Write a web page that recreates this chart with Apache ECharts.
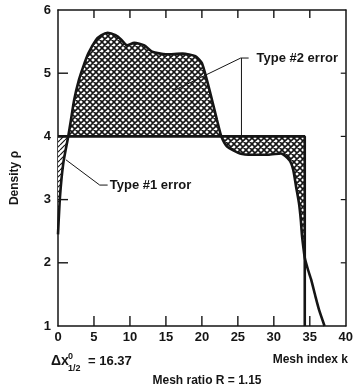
<!DOCTYPE html>
<html><head><meta charset="utf-8">
<script src="https://cdn.jsdelivr.net/npm/echarts@6/dist/echarts.min.js"></script>
<style>html,body{margin:0;padding:0;background:#fff}#c{width:356px;height:388px}</style>
</head><body><div id="c"></div>
<script>
// Numerical density profile (mesh index k, density rho)
const meshK = [0, 0.28, 0.73, 1.42, 1.8, 2.25, 2.9, 3.5, 4.2, 5.3, 6.0, 6.9, 8.0, 8.8, 9.6, 10.6, 12.0, 13.1, 15.0, 17.3, 19.1, 20.0, 20.7, 21.4, 22.1, 22.7, 23.5, 25.3, 27.0, 29.2, 31.0, 32.2, 32.7, 33.1, 33.5, 33.75, 33.9, 34.1, 34.3, 34.75, 35.2, 35.8, 36.3, 37.05];
const densityRho = [2.45, 3.05, 3.57, 4.0, 4.26, 4.58, 4.89, 5.10, 5.31, 5.53, 5.60, 5.64, 5.60, 5.53, 5.44, 5.48, 5.44, 5.34, 5.30, 5.31, 5.27, 5.16, 4.89, 4.58, 4.26, 4.0, 3.84, 3.73, 3.71, 3.71, 3.73, 3.62, 3.47, 3.20, 2.94, 2.68, 2.45, 2.25, 2.08, 1.89, 1.73, 1.46, 1.25, 1.0];
// Exact step profile
const exactK = [0, 34.3, 34.3];
const exactRho = [4, 4, 1];
const exactLevel = 4;
const type1StartK = 0, type1EndK = 1.42;
const type2StartK = 1.42, type2EndK = 34.3;
// Axis ticks
const xTicks = [0, 5, 10, 15, 20, 25, 30, 35, 40];
const yTicks = [1, 2, 3, 4, 5, 6];
// Annotation anchors (data coordinates)
const type1Leader = [[1.1, 3.63], [5.8, 3.23], [6.9, 3.23]];
const type1LabelAt = [7.2, 3.23];
const type2LeaderA = [[16, 4.72], [25.4, 5.24], [26.5, 5.24]];
const type2LeaderB = [[25.5, 5.24], [25.5, 3.94]];
const type2LabelAt = [27.6, 5.24];

const INK = '#151515';
const FONT = '"Liberation Sans", Arial, sans-serif';
const X_MIN = xTicks[0], X_MAX = xTicks[xTicks.length - 1];
const Y_MIN = yTicks[0], Y_MAX = yTicks[yTicks.length - 1];

function makePattern(size, width, draw) {
  const c = document.createElement('canvas');
  c.width = c.height = size;
  const g = c.getContext('2d');
  g.fillStyle = '#fff'; g.fillRect(0, 0, size, size);
  g.strokeStyle = INK; g.lineWidth = width;
  g.beginPath(); draw(g, size); g.stroke();
  return { image: c, repeat: 'repeat' };
}
const crossPat = makePattern(6, 1.6, (g, s) => {
  for (let k = -1; k <= 1; k++) {
    g.moveTo(k * s, 0); g.lineTo(k * s + s, s);
    g.moveTo(k * s + s, 0); g.lineTo(k * s, s);
  }
});
const hatchPat = makePattern(5, 1.2, (g, s) => {
  for (let k = -1; k <= 1; k++) { g.moveTo(k * s, s); g.lineTo(k * s + s, 0); }
});

const chart = echarts.init(document.getElementById('c'), null, { renderer: 'canvas' });

const axisLine = { show: true, onZero: false, lineStyle: { color: INK, width: 1.5 } };
const lbl = { color: INK, fontFamily: FONT, fontWeight: 'bold', fontSize: 13 };
const noTick = { show: false };

chart.setOption({
  animation: false,
  backgroundColor: '#fff',
  grid: { left: 58, right: 8, top: 10, bottom: 62, containLabel: false },
  xAxis: [
    { type: 'value', position: 'bottom', min: X_MIN, max: X_MAX, interval: 5,
      axisLine, splitLine: { show: false }, axisTick: noTick,
      axisLabel: Object.assign({ show: true, margin: 5 }, lbl) },
    { type: 'value', position: 'top', min: X_MIN, max: X_MAX, interval: 5,
      axisLine, splitLine: { show: false }, axisTick: noTick, axisLabel: { show: false } }
  ],
  yAxis: [
    { type: 'value', position: 'left', min: Y_MIN, max: Y_MAX, interval: 1,
      axisLine, splitLine: { show: false }, axisTick: noTick,
      axisLabel: Object.assign({ show: true, margin: 7 }, lbl) },
    { type: 'value', position: 'right', min: Y_MIN, max: Y_MAX, interval: 1,
      axisLine, splitLine: { show: false }, axisTick: noTick, axisLabel: { show: false } }
  ],
  series: [
    { type: 'custom', coordinateSystem: 'cartesian2d', xAxisIndex: 0, yAxisIndex: 0,
      data: [[0, 0]], silent: true, z: 1, clip: true,
      renderItem(params, api) {
        const p2 = [];
        meshK.forEach((k, i) => { if (k >= type2StartK && k <= type2EndK) p2.push(api.coord([k, densityRho[i]])); });
        p2.push(api.coord([type2EndK, exactLevel]));
        p2.push(api.coord([type2StartK, exactLevel]));
        const p1 = [];
        meshK.forEach((k, i) => { if (k >= type1StartK && k <= type1EndK) p1.push(api.coord([k, densityRho[i]])); });
        p1.push(api.coord([type1StartK, exactLevel]));
        return { type: 'group', children: [
          { type: 'polygon', shape: { points: p2 }, style: { fill: crossPat, stroke: null } },
          { type: 'polygon', shape: { points: p1 }, style: { fill: hatchPat, stroke: null } }
        ] };
      } },
    { type: 'line', data: exactK.map((k, i) => [k, exactRho[i]]), symbol: 'none', z: 3,
      lineStyle: { color: INK, width: 2.6 } },
    { type: 'line', data: meshK.map((k, i) => [k, densityRho[i]]), symbol: 'none', z: 4, smooth: 0.2,
      lineStyle: { color: INK, width: 2.6 } }
  ]
});

const px = p => chart.convertToPixel({ gridIndex: 0 }, p);
const poly = (arr, w) => ({ type: 'polyline', shape: { points: arr.map(px) }, style: { stroke: INK, lineWidth: w, fill: null }, z: 10 });
const seg = (x1, y1, x2, y2, w) => ({ type: 'line', z: 20, shape: { x1, y1, x2, y2 }, style: { stroke: INK, lineWidth: w } });
const txt = (x, y, s, size, align, vAlign, extra) => Object.assign({ type: 'text', x, y, z: 10,
  style: { text: s, fill: INK, font: 'bold ' + size + 'px ' + FONT, align: align, verticalAlign: vAlign } }, extra || {});

// Tick marks placed through the axis scales
const tickEls = [];
xTicks.slice(1, -1).forEach(v => {
  const b = px([v, Y_MIN]), t = px([v, Y_MAX]);
  tickEls.push(seg(b[0], b[1], b[0], b[1] - 10, 1.4));
  tickEls.push(seg(t[0], t[1], t[0], t[1] + 8, 1.4));
});
yTicks.slice(1, -1).forEach(v => {
  const l = px([X_MIN, v]), r = px([X_MAX, v]);
  tickEls.push(seg(l[0], l[1], l[0] + 10, l[1], 1.4));
  tickEls.push(seg(r[0], r[1], r[0] - 5, r[1], 1.2));
});

const t1 = px(type1LabelAt), t2 = px(type2LabelAt);
chart.setOption({ graphic: tickEls.concat([
  poly(type1Leader, 1), poly(type2LeaderA, 1), poly(type2LeaderB, 1),
  txt(t1[0], t1[1], 'Type #1 error', 13, 'left', 'middle'),
  txt(t2[0], t2[1], 'Type #2 error', 13, 'left', 'middle'),
  txt(15, 178, 'Density ρ', 12, 'center', 'middle', { rotation: Math.PI / 2 }),
  txt(348, 360, 'Mesh index k', 12, 'right', 'middle'),
  txt(207, 381, 'Mesh ratio R = 1.15', 12, 'center', 'middle'),
  txt(51, 361, 'Δx', 14, 'left', 'middle'),
  txt(68, 357, '0', 9, 'left', 'middle'),
  txt(68, 369, '1/2', 9, 'left', 'middle'),
  txt(88, 361, '= 16.37', 13, 'left', 'middle')
]) });
</script>
</body></html>
